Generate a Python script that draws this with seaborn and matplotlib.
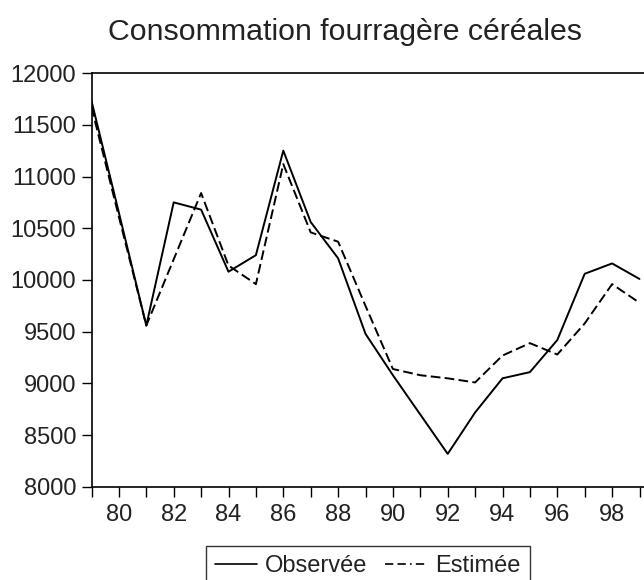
import matplotlib
matplotlib.use("Agg")
import matplotlib.pyplot as plt
import seaborn as sns
import pandas as pd
from matplotlib.lines import Line2D

years = list(range(1979, 2000))
observee = [11730, 10650, 9560, 10750, 10680, 10080, 10240, 11250, 10560, 10210,
            9480, 9080, 8700, 8320, 8720, 9050, 9110, 9420, 10060, 10160, 10010]
estimee = [11670, 10610, 9560, 10200, 10840, 10140, 9960, 11120, 10460, 10370,
           9750, 9140, 9080, 9050, 9010, 9270, 9390, 9280, 9580, 9960, 9780]
y_ticks = [8000, 8500, 9000, 9500, 10000, 10500, 11000, 11500, 12000]
x_label_years = list(range(1980, 2000, 2))

df = pd.DataFrame({
    "année": years * 2,
    "valeur": observee + estimee,
    "série": ["Observée"] * len(years) + ["Estimée"] * len(years),
})

sns.set_theme(style="ticks")
plt.rcParams["font.family"] = ["Liberation Sans", "DejaVu Sans"]

fig = plt.figure(figsize=(6.44, 5.80), dpi=100)
ax = fig.add_axes([91.5 / 644, 93 / 580, 561.7 / 644, 414 / 580])

sns.lineplot(data=df, x="année", y="valeur", style="série",
             dashes={"Observée": "", "Estimée": (5, 2.2)},
             color="black", linewidth=1.4, ax=ax, legend=False)

ax.set_xlim(1979, 1999.5)
ax.set_ylim(8000, 12000)
ax.set_yticks(y_ticks)
ax.set_yticklabels([str(v) for v in y_ticks], fontsize=17, color="#222222")
ax.set_xticks(years, minor=True)
ax.set_xticks(x_label_years)
ax.set_xticklabels([f"{y % 100:02d}" for y in x_label_years], fontsize=17, color="#222222")
ax.tick_params(axis="both", which="both", direction="out", length=7, width=1.0, color="black")
ax.tick_params(axis="x", which="major", pad=5)
ax.tick_params(axis="y", pad=4)
ax.set_xlabel("")
ax.set_ylabel("")
for s in ax.spines.values():
    s.set_color("black")
    s.set_linewidth(1.2)

fig.text(345 / 644, 1 - 32 / 580, "Consommation fourragère céréales",
         ha="center", va="center", fontsize=21.8, color="#222222")

handles = [Line2D([], [], color="black", lw=1.2),
           Line2D([], [], color="black", lw=1.2, dashes=(5, 2.5, 5, 2.5, 1, 2.5))]
leg = fig.legend(handles, ["Observée", "Estimée"], loc="upper center",
                 bbox_to_anchor=(368 / 644, 1 - 546 / 580), ncol=2,
                 fontsize=17, frameon=True, fancybox=False, handlelength=1.78,
                 handletextpad=0.34, columnspacing=0.76, borderpad=0.4,
                 borderaxespad=0)
leg.get_frame().set_edgecolor("black")
leg.get_frame().set_linewidth(1.0)
for t in leg.get_texts():
    t.set_color("#222222")

fig.savefig("out.png", dpi=100)
